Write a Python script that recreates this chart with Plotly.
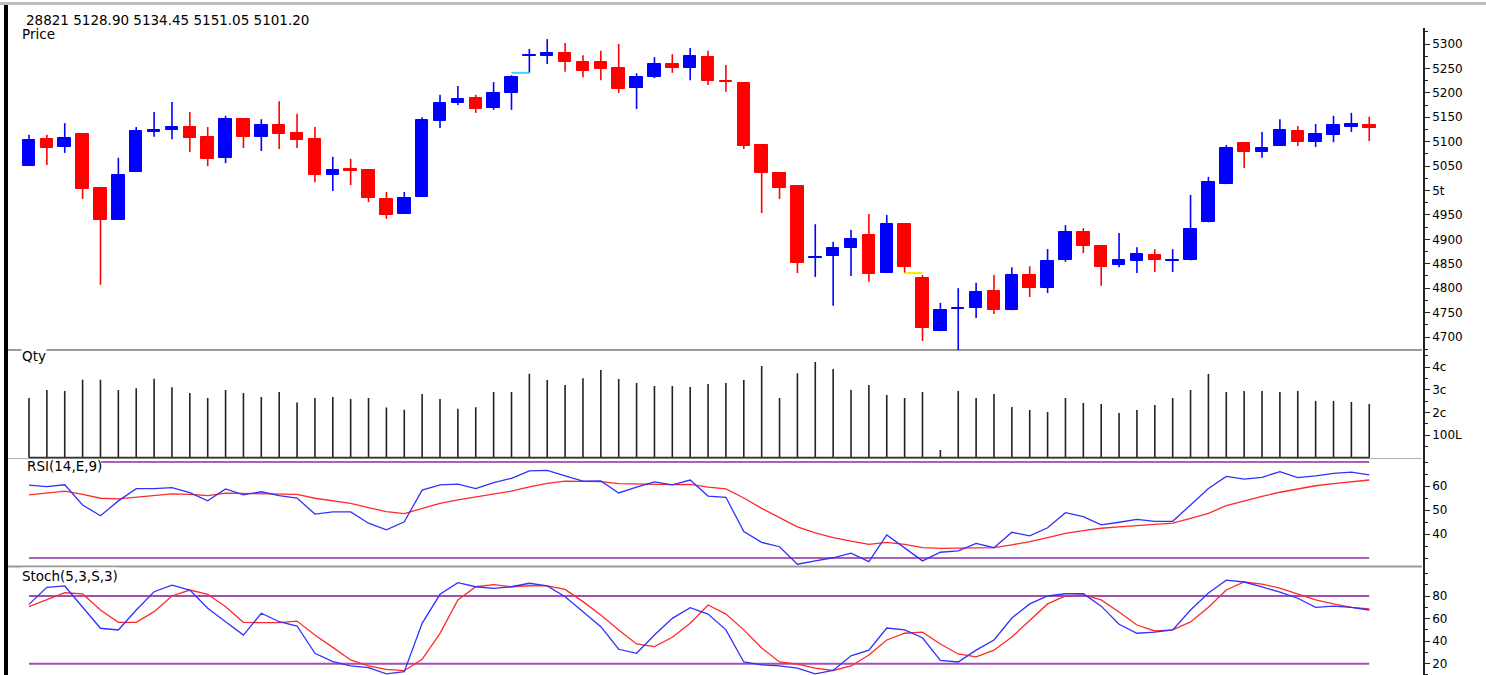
import plotly.graph_objects as go

W, H = 1486, 675

# ---------------- data ----------------
header_text = "28821 5128.90 5134.45 5151.05 5101.20"

opens = [5050, 5105, 5089, 5116, 5005, 4940, 5038, 5120, 5124, 5130,
         5110, 5067, 5146, 5110, 5134, 5118, 5105, 5032, 5044, 5042,
         4983, 4952, 4987, 5142, 5180, 5190, 5169, 5200, 5275, 5275,
         5282, 5263, 5263, 5251, 5210, 5232, 5259, 5251, 5273, 5225,
         5220, 5093, 5036, 5009, 4862, 4866, 4882, 4909, 4831, 4931,
         4821, 4712, 4757, 4759, 4794, 4755, 4827, 4800, 4858, 4915,
         4886, 4848, 4856, 4868, 4856, 4858, 4935, 5013, 5097, 5079,
         5091, 5122, 5099, 5114, 5130, 5134.45]
highs = [5114, 5114, 5138, 5116, 5005, 5067, 5130, 5161, 5181, 5161,
         5130, 5153, 5148, 5146, 5183, 5157, 5130, 5069, 5065, 5043,
         4997, 4997, 5150, 5196, 5214, 5196, 5222, 5236, 5290, 5310,
         5302, 5277, 5286, 5300, 5240, 5273, 5279, 5292, 5286, 5257,
         5222, 5093, 5037, 5010, 4931, 4895, 4919, 4952, 4950, 4931,
         4827, 4770, 4800, 4811, 4827, 4843, 4845, 4880, 4929, 4923,
         4887, 4913, 4884, 4880, 4880, 4991, 5028, 5093, 5098, 5120,
         5146, 5132, 5136, 5153, 5159, 5151.05]
lows = [5050, 5052, 5077, 4983, 4807, 4940, 5038, 5110, 5105, 5079,
        5050, 5056, 5087, 5081, 5085, 5087, 5017, 4999, 5011, 4976,
        4942, 4952, 4987, 5128, 5175, 5159, 5165, 5165, 5241, 5259,
        5243, 5232, 5226, 5200, 5167, 5230, 5241, 5226, 5216, 5202,
        5085, 4954, 4983, 4831, 4823, 4764, 4825, 4813, 4831, 4831,
        4692, 4712, 4660, 4739, 4747, 4755, 4782, 4790, 4854, 4872,
        4805, 4843, 4831, 4833, 4833, 4857, 4935, 5013, 5046, 5067,
        5091, 5091, 5089, 5099, 5120, 5101.20]
closes = [5103, 5087, 5107, 5003, 4940, 5032, 5122, 5123, 5130, 5107,
          5065, 5146, 5110, 5134, 5116, 5103, 5032, 5042, 5040, 4985,
          4950, 4985, 5144, 5179, 5187, 5167, 5200, 5232, 5278, 5282,
          5263, 5245, 5249, 5208, 5232, 5259, 5251, 5275, 5224, 5222,
          5091, 5036, 5005, 4852, 4864, 4882, 4901, 4829, 4931, 4843,
          4718, 4755, 4759, 4792, 4755, 4827, 4800, 4856, 4915, 4886,
          4843, 4858, 4870, 4858, 4858, 4921, 5017, 5087, 5079, 5087,
          5124, 5099, 5116, 5134, 5136, 5128.90]

volume_lakh = [263, 299, 294, 344, 344, 299, 306, 348, 311, 285,
               263, 299, 285, 268, 290, 243, 263, 268, 259, 263,
               221, 212, 281, 259, 216, 222, 290, 290, 370, 343,
               321, 351, 387, 347, 329, 316, 316, 312, 325, 329,
               343, 404, 263, 373, 422, 391, 299, 321, 277, 263,
               290, 34, 294, 263, 281, 224, 210, 202, 263, 241,
               237, 197, 210, 232, 263, 299, 369, 290, 294, 294,
               290, 294, 250, 250, 246, 237]

rsi = [60.4, 59.7, 60.5, 52.1, 47.6, 53.8, 58.9, 58.9, 59.3, 57.2,
       53.8, 58.8, 56.3, 57.6, 56.0, 55.0, 48.3, 49.2, 49.2, 44.5,
       41.7, 45.1, 58.3, 60.5, 60.8, 58.9, 61.4, 63.2, 66.3, 66.5,
       64.2, 62.0, 62.1, 57.1, 59.5, 61.7, 60.5, 62.5, 55.8, 55.3,
       41.0, 36.5, 34.7, 27.4, 28.8, 30.1, 32.0, 28.5, 39.6, 34.3,
       28.8, 32.4, 33.0, 36.1, 34.3, 40.7, 39.2, 42.6, 48.9, 47.2,
       43.8, 44.9, 46.1, 45.3, 45.3, 52.1, 59.0, 64.0, 62.9, 63.6,
       66.0, 63.5, 64.2, 65.3, 65.8, 64.6]
rsi_signal = [56.3, 57.0, 57.9, 56.5, 54.9, 54.6, 55.3, 56.0, 56.7, 56.5,
              56.0, 57.0, 56.8, 56.9, 56.7, 56.5, 54.9, 53.9, 52.8, 51.0,
              49.3, 48.5, 50.7, 52.8, 54.2, 55.5, 56.7, 57.9, 59.6, 61.1,
              62.0, 62.0, 61.8, 61.0, 60.8, 60.5, 60.6, 60.7, 59.5, 58.8,
              55.0, 50.7, 46.8, 43.0, 40.5, 38.5, 37.0, 35.7, 36.5, 35.7,
              34.3, 34.0, 34.1, 34.2, 34.3, 35.5, 36.8, 38.5, 40.3, 41.4,
              42.4, 43.0, 43.5, 44.0, 44.5, 46.5, 48.6, 51.8, 53.8, 55.7,
              57.4, 58.8, 60.1, 61.0, 61.8, 62.5]

stoch_k = [72.6, 87.7, 88.9, 70.5, 51.4, 49.9, 67.6, 83.8, 89.7, 85.3,
           69.1, 57.2, 45.4, 64.7, 57.2, 53.4, 29.2, 21.8, 18.0, 16.5,
           10.9, 12.9, 55.8, 81.5, 91.8, 88.2, 86.8, 88.2, 91.3, 88.9,
           79.4, 66.1, 52.8, 32.8, 29.2, 45.4, 60.2, 69.6, 64.0, 50.0,
           21.5, 19.0, 18.0, 16.0, 11.0, 14.0, 27.0, 32.0, 51.6, 50.0,
           43.0, 23.0, 21.5, 32.0, 41.0, 60.5, 73.0, 80.0, 82.0, 82.0,
           71.0, 55.0, 47.0, 48.0, 50.0, 67.6, 82.7, 94.0, 92.4, 88.0,
           83.5, 78.0, 70.0, 71.0, 70.0, 67.6]
stoch_d = [70.5, 77.0, 82.9, 81.8, 67.6, 56.7, 56.7, 66.1, 80.0, 85.3,
           81.5, 70.5, 56.7, 56.4, 56.4, 57.8, 45.4, 34.5, 23.3, 18.0,
           15.0, 13.8, 23.9, 46.9, 76.5, 88.2, 90.0, 88.2, 89.1, 88.9,
           85.9, 75.0, 63.2, 49.9, 37.5, 35.1, 43.4, 55.8, 72.0, 64.0,
           50.0, 34.0, 21.5, 19.7, 16.0, 14.0, 18.0, 27.7, 41.0, 47.0,
           48.0, 37.5, 28.6, 26.0, 32.0, 43.7, 58.7, 73.0, 80.0, 81.0,
           76.5, 65.8, 54.3, 49.0, 50.0, 57.0, 70.0, 85.3, 92.4, 90.6,
           87.0, 82.0, 76.5, 73.0, 70.0, 68.5]

price_ticks = [4700, 4750, 4800, 4850, 4900, 4950, 5000, 5050, 5100, 5150, 5200, 5250, 5300]
price_tick_text = ["4700", "4750", "4800", "4850", "4900", "4950", "5t", "5050", "5100", "5150", "5200", "5250", "5300"]
qty_ticks = [100, 200, 300, 400]
qty_tick_text = ["100L", "2c", "3c", "4c"]
rsi_ticks = [40, 50, 60]
rsi_levels = [70, 30]
stoch_ticks = [20, 40, 60, 80]
stoch_levels = [80, 20]

# ---------------- layout helpers ----------------
n = len(opens)
idx = list(range(n))
BLUE = "#0000ff"
RED = "#ff0000"
FONT = "DejaVu Sans"


def ypx(p):
    return 1 - p / H


def xpx(p):
    return p / W


x_dom = [xpx(7), xpx(1423)]
x_rng = [(7 - 29) / 17.87, (1423 - 29) / 17.87]

fig = go.Figure()

# ---- price: wicks ----
for color, up in ((BLUE, True), (RED, False)):
    wx, wy = [], []
    for i in idx:
        if (closes[i] >= opens[i]) == up:
            wx += [i, i, None]
            wy += [lows[i], highs[i], None]
    fig.add_trace(go.Scatter(x=wx, y=wy, mode="lines", line=dict(color=color, width=1.6),
                             xaxis="x", yaxis="y", hoverinfo="skip", showlegend=False))

# ---- price: bodies ----
body_colors = [BLUE if closes[i] >= opens[i] else RED for i in idx]
fig.add_trace(go.Bar(x=idx, base=[min(opens[i], closes[i]) for i in idx],
                     y=[abs(closes[i] - opens[i]) for i in idx], width=0.7,
                     marker=dict(color=body_colors, line=dict(color=body_colors, width=1)),
                     xaxis="x", yaxis="y", showlegend=False))

# gap markers
fig.add_trace(go.Scatter(x=[27, 28], y=[lows[28], lows[28]], mode="lines",
                         line=dict(color="#40d8f0", width=2), xaxis="x", yaxis="y", showlegend=False))
fig.add_trace(go.Scatter(x=[49, 50], y=[lows[49], lows[49]], mode="lines",
                         line=dict(color="#f0f000", width=2), xaxis="x", yaxis="y", showlegend=False))

# ---- volume ----
vx, vy = [], []
for i in idx:
    vx += [i, i, None]
    vy += [0, volume_lakh[i], None]
fig.add_trace(go.Scatter(x=vx, y=vy, mode="lines", line=dict(color="#222222", width=1.6),
                         xaxis="x2", yaxis="y2", showlegend=False))
fig.add_trace(go.Scatter(x=[idx[0], idx[-1]], y=[0, 0], mode="lines", line=dict(color="#333333", width=2),
                         xaxis="x2", yaxis="y2", showlegend=False))

# ---- RSI ----
for lv in rsi_levels:
    fig.add_trace(go.Scatter(x=[idx[0], idx[-1]], y=[lv, lv], mode="lines",
                             line=dict(color="#a860b8", width=2), xaxis="x3", yaxis="y3", showlegend=False))
fig.add_trace(go.Scatter(x=idx, y=rsi_signal, mode="lines", line=dict(color="#ff2a2a", width=1.3),
                         xaxis="x3", yaxis="y3", showlegend=False))
fig.add_trace(go.Scatter(x=idx, y=rsi, mode="lines", line=dict(color="#3030ff", width=1.3),
                         xaxis="x3", yaxis="y3", showlegend=False))

# ---- Stoch ----
for lv in stoch_levels:
    fig.add_trace(go.Scatter(x=[idx[0], idx[-1]], y=[lv, lv], mode="lines",
                             line=dict(color="#a050b0", width=2), xaxis="x4", yaxis="y4", showlegend=False))
fig.add_trace(go.Scatter(x=idx, y=stoch_d, mode="lines", line=dict(color="#ff2a2a", width=1.3),
                         xaxis="x4", yaxis="y4", showlegend=False))
fig.add_trace(go.Scatter(x=idx, y=stoch_k, mode="lines", line=dict(color="#3030ff", width=1.3),
                         xaxis="x4", yaxis="y4", showlegend=False))

# ---------------- axes ----------------
tickfont = dict(family=FONT, size=12, color="#000000")
common_y = dict(side="right", showline=True, linecolor="#222222", linewidth=1.5, ticks="outside",
                ticklen=5, tickwidth=1, tickcolor="#222222", showgrid=False, zeroline=False,
                tickfont=tickfont, fixedrange=True)
common_x = dict(domain=x_dom, range=x_rng, visible=False, fixedrange=True)

layout_axes = dict(
    xaxis=dict(anchor="y", **common_x),
    xaxis2=dict(anchor="y2", **common_x),
    xaxis3=dict(anchor="y3", **common_x),
    xaxis4=dict(anchor="y4", **common_x),
    yaxis=dict(anchor="x", domain=[ypx(350), ypx(28)],
               range=[5300 - (350 - 44) * 2.0475, 5300 + (44 - 28) * 2.0475],
               tickmode="array", tickvals=price_ticks, ticktext=price_tick_text,
               minor=dict(tickmode="array", tickvals=[4675 + 50 * k for k in range(14)],
                          ticks="outside", ticklen=3, tickcolor="#222222"),
               **common_y),
    yaxis2=dict(anchor="x2", domain=[ypx(458.5), ypx(350)],
                range=[(457.7 - 458.5) / 0.2267, (457.7 - 350) / 0.2267],
                tickmode="array", tickvals=qty_ticks, ticktext=qty_tick_text,
                minor=dict(tickmode="array", tickvals=[50, 150, 250, 350, 450],
                           ticks="outside", ticklen=3, tickcolor="#222222"),
                **common_y),
    yaxis3=dict(anchor="x3", domain=[ypx(566.5), ypx(458.5)],
                range=[60 - (566.5 - 486) / 2.4, 60 + (486 - 458.5) / 2.4],
                tickmode="array", tickvals=rsi_ticks,
                minor=dict(tickmode="array", tickvals=[30, 35, 45, 55, 65, 70],
                           ticks="outside", ticklen=3, tickcolor="#222222"),
                **common_y),
    yaxis4=dict(anchor="x4", domain=[0, ypx(567)],
                range=[80 - (675 - 596) * 0.8863, 80 + (596 - 567) * 0.8863],
                tickmode="array", tickvals=stoch_ticks,
                minor=dict(tickmode="array", tickvals=[10, 30, 50, 70, 90, 100],
                           ticks="outside", ticklen=3, tickcolor="#222222"),
                **common_y),
)

shapes = [
    dict(type="rect", xref="paper", yref="paper", x0=0, x1=1, y0=ypx(5), y1=ypx(2),
         fillcolor="#bdbdbd", line=dict(width=0), layer="above"),
    dict(type="rect", xref="paper", yref="paper", x0=xpx(4), x1=xpx(8), y0=0, y1=ypx(5),
         fillcolor="#000000", line=dict(width=0), layer="above"),
    dict(type="line", xref="paper", yref="paper", x0=xpx(7), x1=xpx(1422), y0=ypx(350), y1=ypx(350),
         line=dict(color="#9a9a9a", width=2), layer="below"),
    dict(type="line", xref="paper", yref="paper", x0=xpx(7), x1=xpx(1422), y0=ypx(458.5), y1=ypx(458.5),
         line=dict(color="#b0b0b0", width=1), layer="below"),
    dict(type="line", xref="paper", yref="paper", x0=xpx(7), x1=xpx(1422), y0=ypx(566.5), y1=ypx(566.5),
         line=dict(color="#9a9a9a", width=2), layer="below"),
    # white backing under the RSI caption (kept below the Qty baseline)
    dict(type="rect", xref="paper", yref="paper", x0=xpx(21), x1=xpx(101), y0=ypx(473), y1=ypx(460),
         fillcolor="#ffffff", line=dict(width=0), layer="above"),
]


def label(text, x, y, size=13.5, bg="#ffffff"):
    return dict(text=text, xref="paper", yref="paper", x=xpx(x), y=ypx(y), xanchor="left",
                yanchor="middle", showarrow=False, bgcolor=bg, borderpad=0,
                font=dict(family=FONT, size=size, color="#000000"))


annotations = [
    label(header_text, 25, 20),
    label("Price", 21, 34),
    label("Qty", 21, 356),
    label("RSI(14,E,9)", 26, 466, bg="rgba(0,0,0,0)"),
    label("Stoch(5,3,S,3)", 21, 576),
]

fig.update_layout(
    width=W, height=H, margin=dict(l=0, r=0, t=0, b=0),
    paper_bgcolor="#ffffff", plot_bgcolor="#ffffff",
    showlegend=False, bargap=0, barmode="overlay",
    shapes=shapes, annotations=annotations,
    **layout_axes,
)

fig.write_html("out.html", config=dict(displayModeBar=False))
